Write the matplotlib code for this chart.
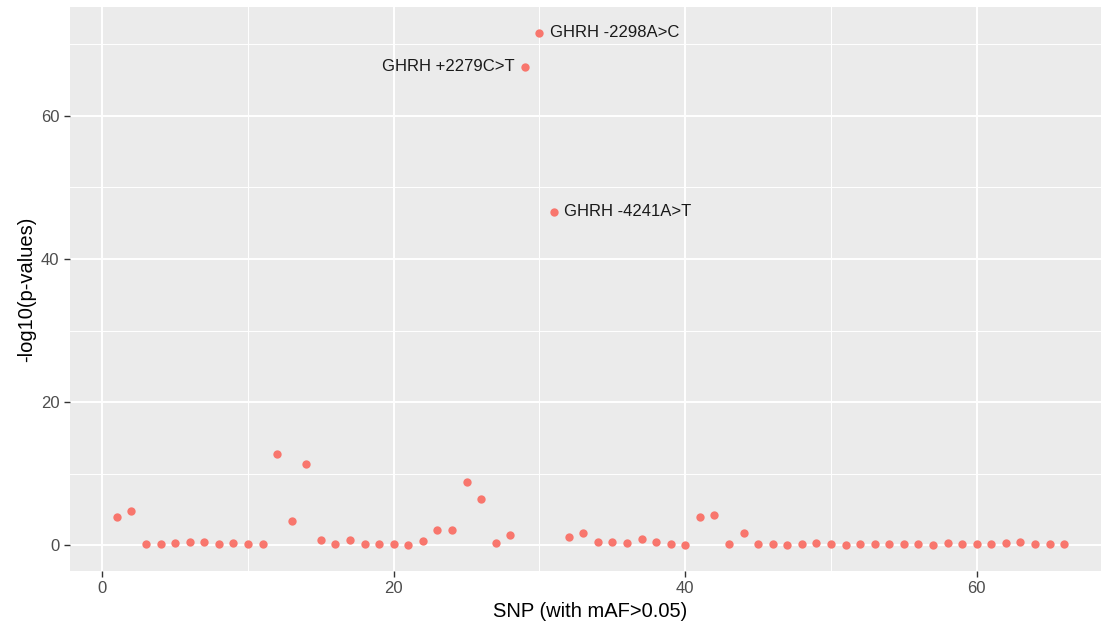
import numpy as np
import matplotlib.pyplot as plt
from matplotlib.ticker import MultipleLocator

plt.rcParams['font.family'] = ['Liberation Sans', 'DejaVu Sans']

# -log10(p) par SNP
snp = np.arange(1, 67)
log_p = [4.0, 4.8, 0.15, 0.15, 0.35, 0.5, 0.5, 0.15, 0.35, 0.15,
         0.15, 12.7, 3.45, 11.4, 0.75, 0.15, 0.75, 0.15, 0.15, 0.15,
         0.0, 0.55, 2.1, 2.1, 8.85, 6.5, 0.35, 1.5, 66.85, 71.6,
         46.6, 1.1, 1.7, 0.5, 0.5, 0.35, 0.93, 0.5, 0.15, 0.0,
         4.0, 4.2, 0.15, 1.7, 0.15, 0.15, 0.0, 0.15, 0.35, 0.15,
         0.0, 0.15, 0.15, 0.15, 0.15, 0.15, 0.0, 0.35, 0.15, 0.15,
         0.15, 0.35, 0.5, 0.15, 0.15, 0.15]

# SNPs annotés
label_snp = [30, 29, 31]
label_txt = ["GHRH -2298A>C", "GHRH +2279C>T", "GHRH -4241A>T"]
label_side = ["right", "left", "right"]

W, H = 1101, 627
fig = plt.figure(figsize=(W / 100, H / 100), dpi=100)
# panneau en pixels : gauche 69.5, droite 1111.5 (coupé par l'image), haut 7, bas 571
ax = fig.add_axes([69.5 / W, (H - 571) / H, (1111.5 - 69.5) / W, (571 - 7) / H])
ax.set_facecolor('#EBEBEB')
for s in ax.spines.values():
    s.set_visible(False)

ax.scatter(snp, log_p, s=36, color='#F8766D', linewidths=0, zorder=3)

for n, t, side in zip(label_snp, label_txt, label_side):
    yv = log_p[n - 1]
    dx = 7.5 if side == "right" else -7.5
    ax.annotate(t, (n, yv), xytext=(dx, 0), textcoords='offset points',
                ha='left' if side == "right" else 'right', va='center',
                fontsize=12, color='#1A1A1A', zorder=4)

xr = max(snp) - min(snp)
yr = max(log_p) - min(log_p)
ax.set_xlim(min(snp) - 0.05 * xr, max(snp) + 0.05 * xr)
ax.set_ylim(min(log_p) - 0.05 * yr, max(log_p) + 0.05 * yr)

ax.xaxis.set_major_locator(MultipleLocator(20))
ax.xaxis.set_minor_locator(MultipleLocator(10))
ax.yaxis.set_major_locator(MultipleLocator(20))
ax.yaxis.set_minor_locator(MultipleLocator(10))
ax.grid(which='major', color='white', lw=1.4, zorder=0)
ax.grid(which='minor', color='white', lw=0.7, zorder=0)
ax.set_axisbelow(True)

ax.tick_params(which='major', length=4.3, width=1, color='#333333',
               labelsize=12, labelcolor='#4D4D4D', pad=3)
ax.tick_params(which='minor', length=0)

ax.set_xlabel("SNP (with mAF>0.05)", fontsize=14.5, color='black', labelpad=4)
ax.set_ylabel("-log10(p-values)", fontsize=14.5, color='black', labelpad=3)

fig.savefig("out.png", dpi=100)
